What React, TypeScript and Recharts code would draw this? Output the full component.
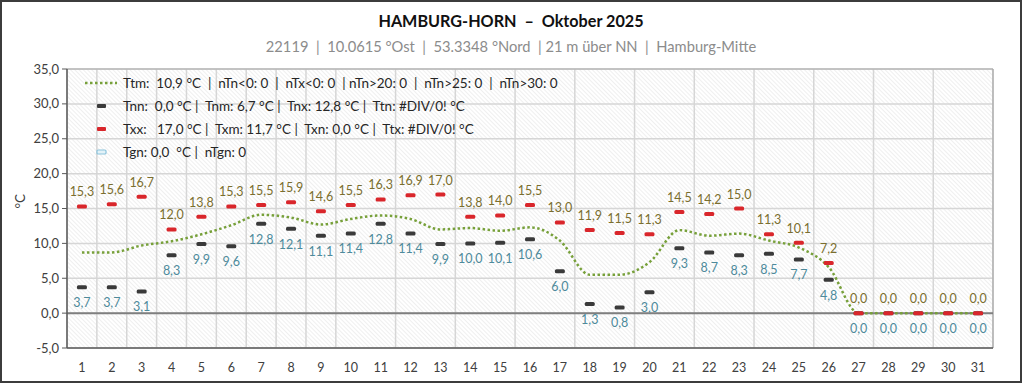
import React from 'react';
import { ComposedChart, Line, XAxis, YAxis, CartesianGrid, ReferenceLine, LabelList } from 'recharts';

// Tage im Oktober
const days = [1, 2, 3, 4, 5, 6, 7, 8, 9, 10, 11, 12, 13, 14, 15, 16, 17, 18, 19, 20, 21, 22, 23, 24, 25, 26, 27, 28, 29, 30, 31];
// Tagesmaximum
const txValues = [15.3, 15.6, 16.7, 12.0, 13.8, 15.3, 15.5, 15.9, 14.6, 15.5, 16.3, 16.9, 17.0, 13.8, 14.0, 15.5, 13.0, 11.9, 11.5, 11.3, 14.5, 14.2, 15.0, 11.3, 10.1, 7.2, 0, 0, 0, 0, 0];
// Tagesminimum
const tnValues = [3.7, 3.7, 3.1, 8.3, 9.9, 9.6, 12.8, 12.1, 11.1, 11.4, 12.8, 11.4, 9.9, 10.0, 10.1, 10.6, 6.0, 1.3, 0.8, 3.0, 9.3, 8.7, 8.3, 8.5, 7.7, 4.8, 0, 0, 0, 0, 0];
// Tagesmittel
const ttmValues = [8.7, 8.7, 9.7, 10.3, 11.3, 12.6, 14.1, 13.7, 12.7, 13.5, 14.0, 13.5, 12.0, 12.2, 11.8, 12.3, 10.4, 5.5, 5.5, 7.3, 11.9, 11.1, 11.4, 10.4, 9.4, 6.6, 0, 0, 0, 0, 0];

const yTicks = [-5, 0, 5, 10, 15, 20, 25, 30, 35];
const gridTicks = [0.5, 1.5, 2.5, 3.5, 4.5, 5.5, 6.5, 7.5, 8.5, 9.5, 10.5, 11.5, 12.5, 13.5, 14.5, 15.5, 16.5, 17.5, 18.5, 19.5, 20.5, 21.5, 22.5, 23.5, 24.5, 25.5, 26.5, 27.5, 28.5, 29.5, 30.5, 31.5];

const legendRows = [
  { key: 'ttm', text: 'Ttm:  10,9 °C  |  nTn<0: 0  |  nTx<0: 0  | nTn>20: 0  |  nTn>25: 0  |  nTn>30: 0' },
  { key: 'tn', text: 'Tnn:  0,0 °C |  Tnm: 6,7 °C |  Tnx: 12,8 °C |  Ttn: #DIV/0! °C' },
  { key: 'tx', text: 'Txx:   17,0 °C |  Txm: 11,7 °C |  Txn: 0,0 °C |  Ttx: #DIV/0! °C' },
  { key: 'tg', text: 'Tgn: 0,0  °C |  nTgn: 0' },
];

const data = days.map((d, i) => ({ day: d, tx: txValues[i], tn: tnValues[i], ttm: ttmValues[i] }));

const FONT = 'Lato, "Open Sans", sans-serif';
const fmt = (v: number) => v.toFixed(1).replace('.', ',');

const dash = (color: string) => (props: any) => {
  const { cx, cy, index } = props;
  if (cx == null || cy == null) return <g key={index} />;
  return <rect key={index} x={cx - 5} y={cy - 2} width={10} height={4} rx={1.5} fill={color} />;
};

const LegendSymbol = ({ kind }: { kind: string }) => {
  if (kind === 'ttm') {
    return (
      <svg width={38} height={10}>
        <line x1={3} y1={5} x2={35} y2={5} stroke="#77a03a" strokeWidth={2.5} strokeDasharray="2.5 2.5" />
      </svg>
    );
  }
  const colors: Record<string, [string, string]> = {
    tn: ['#3a3a3a', '#3a3a3a'],
    tx: ['#d9262b', '#d9262b'],
    tg: ['#e3f2f8', '#8cc4dc'],
  };
  const [fill, stroke] = colors[kind];
  return (
    <svg width={38} height={10}>
      <rect x={15} y={3} width={9} height={4} rx={1} fill={fill} stroke={stroke} strokeWidth={kind === 'tg' ? 1.2 : 0} />
    </svg>
  );
};

export default function App() {
  return (
    <div style={{ position: 'relative', width: 1024, height: 385, background: '#fff', fontFamily: FONT }}>
      <style>{'body{margin:0}'}</style>
      <svg width={0} height={0} style={{ position: 'absolute' }}>
        <defs>
          <pattern id="hatch" width={3} height={3} patternUnits="userSpaceOnUse" patternTransform="rotate(-45)">
            <rect width={3} height={3} fill="#ffffff" />
            <line x1={0} y1={0} x2={0} y2={3} stroke="#e3e3e3" strokeWidth={1.1} />
          </pattern>
        </defs>
      </svg>
      <div style={{ position: 'absolute', left: 0, top: 0, width: 1022, height: 383, boxSizing: 'border-box', border: '2px solid #3c3c3c', pointerEvents: 'none', zIndex: 2 }} />
      <div style={{ position: 'absolute', left: 0, top: 11, width: 1022, textAlign: 'center', fontSize: 16.2, fontWeight: 700, color: '#111', whiteSpace: 'pre' }}>
        {'HAMBURG-HORN  –  Oktober 2025'}
      </div>
      <div style={{ position: 'absolute', left: 0, top: 37, width: 1022, textAlign: 'center', fontSize: 14.7, color: '#8c8c8c', whiteSpace: 'pre' }}>
        {'22119  |  10.0615 °Ost  |  53.3348 °Nord  | 21 m über NN  |  Hamburg-Mitte'}
      </div>
      <div style={{ position: 'absolute', left: 0, top: 0 }}>
        <ComposedChart width={1024} height={385} data={data} margin={{ top: 69, right: 31, bottom: 7, left: 10 }}>
          <CartesianGrid xAxisId="grid" stroke="#d6d6d6" strokeWidth={1.5} fill="url(#hatch)" vertical horizontal />
          <XAxis
            dataKey="day"
            type="number"
            domain={[0.5, 31.5]}
            ticks={days}
            interval={0}
            height={30}
            tickLine={false}
            axisLine={{ stroke: '#595959', strokeWidth: 1.5 }}
            tickMargin={9}
            tick={{ fill: '#404040', fontSize: 12.5, fontFamily: FONT }}
          />
          <XAxis xAxisId="grid" dataKey="day" type="number" domain={[0.5, 31.5]} ticks={gridTicks} hide />
          <YAxis
            type="number"
            domain={[-5, 35]}
            ticks={yTicks}
            interval={0}
            width={57}
            tickFormatter={fmt}
            tickSize={5}
            tickMargin={3}
            tickLine={{ stroke: '#595959' }}
            axisLine={{ stroke: '#595959', strokeWidth: 1.5 }}
            tick={{ fill: '#404040', fontSize: 13, fontFamily: FONT }}
            label={{ value: '°C', angle: -90, position: 'insideLeft', offset: 10, fill: '#404040', fontSize: 13.5, fontFamily: FONT }}
          />
          <ReferenceLine y={35} stroke="#a6a6a6" strokeWidth={1.2} />
          <ReferenceLine x={31.5} stroke="#a6a6a6" strokeWidth={1.2} />
          <ReferenceLine y={0} stroke="#7f7f7f" strokeWidth={2} />
          <Line
            dataKey="ttm"
            type="monotone"
            stroke="#77a03a"
            strokeWidth={2.5}
            strokeDasharray="2.5 2.5"
            dot={false}
            activeDot={false}
            isAnimationActive={false}
          />
          <Line dataKey="tn" stroke="none" dot={dash('#3a3a3a')} activeDot={false} isAnimationActive={false}>
            <LabelList dataKey="tn" position="bottom" offset={11} formatter={(v: any) => fmt(Number(v))} fill="#4d8a9b" fontSize={12.5} fontFamily={FONT} />
          </Line>
          <Line dataKey="tx" stroke="none" dot={dash('#d9262b')} activeDot={false} isAnimationActive={false}>
            <LabelList dataKey="tx" position="top" offset={10} formatter={(v: any) => fmt(Number(v))} fill="#7a6e2e" fontSize={12.5} fontFamily={FONT} />
          </Line>
        </ComposedChart>
      </div>
      <div style={{ position: 'absolute', left: 82, top: 71, fontSize: 13.5, color: '#262626', zIndex: 1 }}>
        {legendRows.map((r) => (
          <div key={r.key} style={{ display: 'flex', alignItems: 'center', height: 23, whiteSpace: 'pre' }}>
            <LegendSymbol kind={r.key} />
            <span style={{ marginLeft: 3 }}>{r.text}</span>
          </div>
        ))}
      </div>
    </div>
  );
}
